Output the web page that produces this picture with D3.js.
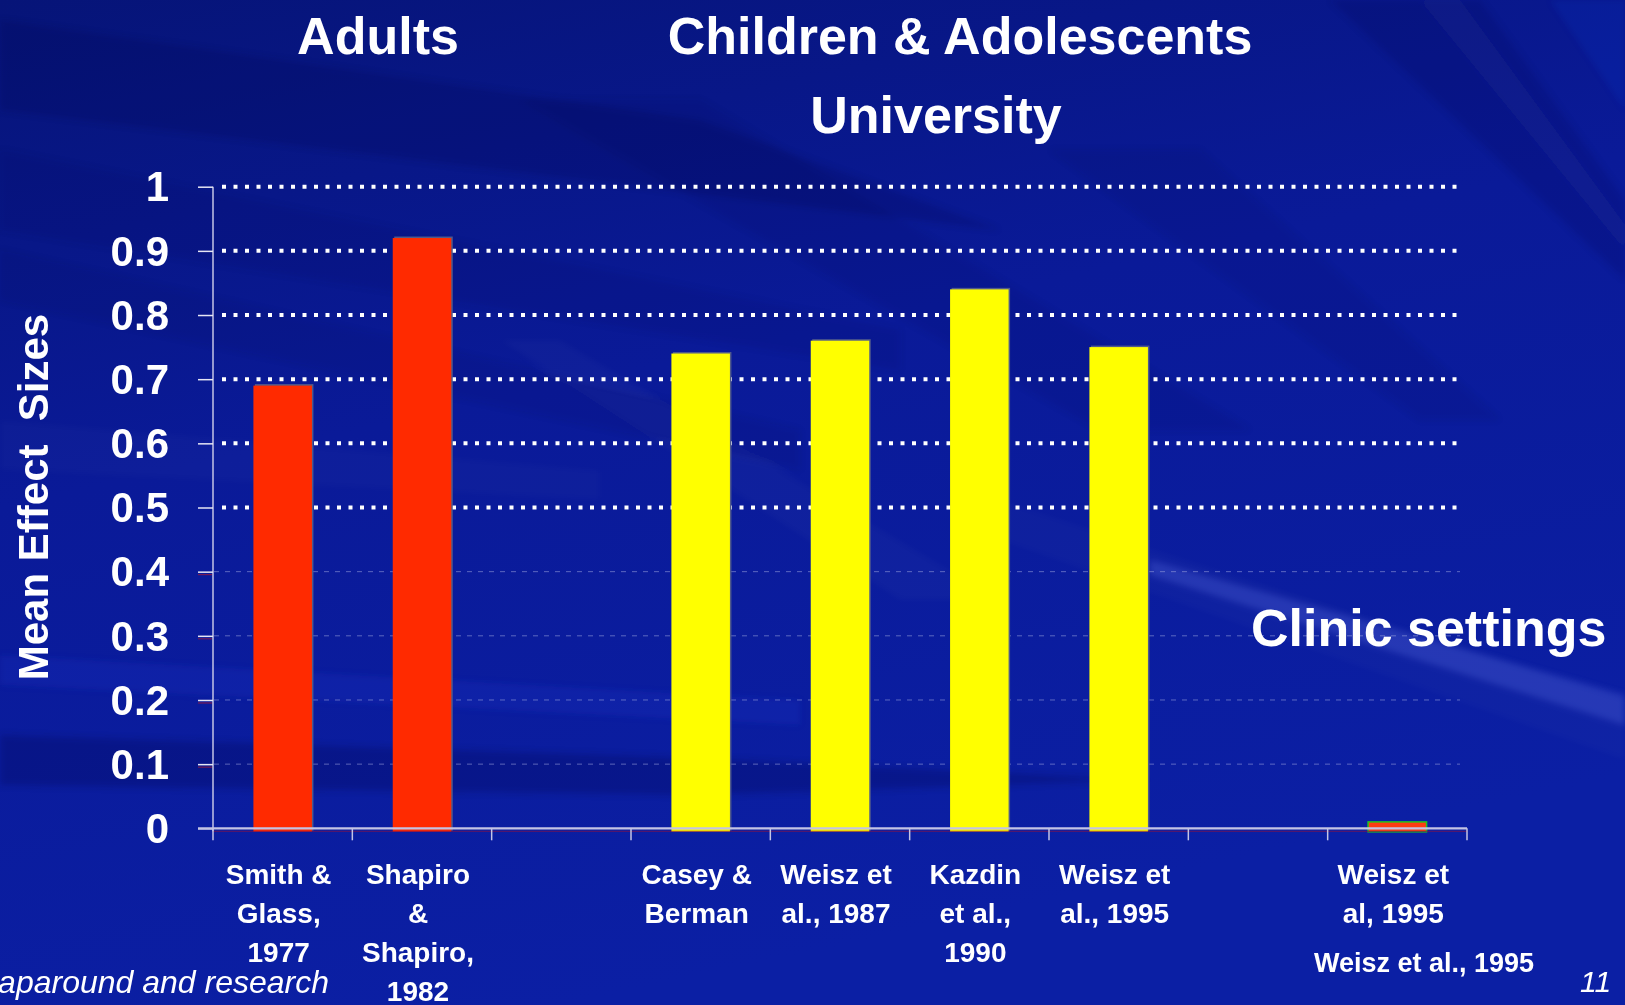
<!DOCTYPE html>
<html>
<head>
<meta charset="utf-8">
<script src="https://cdn.jsdelivr.net/npm/d3@7"></script>
<style>
  html, body { margin: 0; padding: 0; background: #0a1a96; overflow: hidden; }
  svg { display: block; }
  text { font-family: "Liberation Sans", Arial, Helvetica, sans-serif; }
</style>
</head>
<body>
<svg id="chart" width="1625" height="1005"></svg>
<script>
// ---- data ----
const studies = ["smith1977", "shapiro1982", "gapA", "casey", "weisz1987", "kazdin1990", "weisz1995", "gapB", "weiszClinic"];
const effectSizes = [0.69, 0.92, null, 0.74, 0.76, 0.84, 0.75, null, 0.01];
const groups = ["adult", "adult", null, "child", "child", "child", "child", null, "clinic"];
const tickLabels = [
  ["Smith &", "Glass,", "1977"],
  ["Shapiro", "&", "Shapiro,", "1982"],
  [],
  ["Casey &", "Berman"],
  ["Weisz et", "al., 1987"],
  ["Kazdin", "et al.,", "1990"],
  ["Weisz et", "al., 1995"],
  [],
  ["Weisz et", "al, 1995"]
];
const yTicks = [0, 0.1, 0.2, 0.3, 0.4, 0.5, 0.6, 0.7, 0.8, 0.9, 1];
const groupNames = ["adult", "child", "clinic"];
const groupColors = ["#ff2a00", "#ffff00", "#ff3c10"];

const W = 1625, H = 1005;
const svg = d3.select("#chart");
const defs = svg.append("defs");

// ---- slide background ----
const bg = defs.append("linearGradient").attr("id", "bgGrad")
  .attr("x1", "0").attr("y1", "0").attr("x2", "0.35").attr("y2", "1");
bg.append("stop").attr("offset", "0").attr("stop-color", "#061478");
bg.append("stop").attr("offset", "0.45").attr("stop-color", "#0a1a98");
bg.append("stop").attr("offset", "1").attr("stop-color", "#0b1fa4");
svg.append("rect").attr("width", W).attr("height", H).attr("fill", "url(#bgGrad)");

defs.append("filter").attr("id", "soft").attr("x", "-20%").attr("y", "-20%")
  .attr("width", "140%").attr("height", "140%")
  .append("feGaussianBlur").attr("stdDeviation", 3);

// sweeping light and shadow bands
const streaks = [
  { pts: [[0, 20], [700, 120], [1000, 230], [0, 110]], fill: "#000a40", op: 0.18 },
  { pts: [[0, 150], [900, 330], [900, 370], [0, 230]], fill: "#000a40", op: 0.10 },
  { pts: [[0, 250], [800, 430], [800, 470], [0, 300]], fill: "#000a40", op: 0.08 },
  { pts: [[0, 420], [600, 470], [600, 500], [0, 470]], fill: "#ffffff", op: 0.02 },
  { pts: [[0, 655], [800, 700], [800, 725], [0, 685]], fill: "#3050ff", op: 0.10 },
  { pts: [[0, 735], [700, 758], [1150, 780], [700, 795], [0, 785]], fill: "#000840", op: 0.22 },
  // diagonal sweep across the upper middle
  { pts: [[520, 100], [700, 100], [1250, 430], [1100, 430]], fill: "#000a40", op: 0.10 },
  { pts: [[500, 340], [560, 340], [1000, 600], [900, 600]], fill: "#ffffff", op: 0.025 },
  { pts: [[1050, 150], [1200, 150], [1500, 420], [1420, 420]], fill: "#000a40", op: 0.08 },
  { pts: [[1150, 560], [1625, 695], [1625, 725], [1150, 575]], fill: "#8090ff", op: 0.20 },
  { pts: [[1000, 500], [1625, 700], [1625, 760], [1000, 540]], fill: "#ffffff", op: 0.02 },
  { pts: [[1330, 0], [1480, 0], [1625, 200], [1625, 280]], fill: "#000a50", op: 0.16 },
  { pts: [[1420, 0], [1460, 0], [1625, 225], [1625, 250]], fill: "#ffffff", op: 0.03 },
  { pts: [[1550, 0], [1625, 0], [1625, 110]], fill: "#2040ff", op: 0.10 }
];
svg.append("g").attr("filter", "url(#soft)")
  .selectAll("polygon").data(streaks).join("polygon")
  .attr("points", d => d.pts.map(p => p.join(",")).join(" "))
  .attr("fill", d => d.fill).attr("opacity", d => d.op);

// ---- scales ----
const x = d3.scaleBand().domain(studies).range([213, 1467]).padding(0);
const y = d3.scaleLinear().domain([0, 1]).range([828.3, 186.7]);
const color = d3.scaleOrdinal().domain(groupNames).range(groupColors);
const barW = x.bandwidth() * 0.42;

// ---- gridlines ----
const grid = svg.append("g");
grid.selectAll("line.dot").data(yTicks.filter(t => t >= 0.5)).join("line")
  .attr("x1", 222).attr("x2", 1462)
  .attr("y1", d => y(d)).attr("y2", d => y(d))
  .attr("stroke", "#ffffff").attr("stroke-width", 4)
  .attr("stroke-dasharray", "4 7.5");
grid.selectAll("line.dash").data(yTicks.filter(t => t > 0 && t < 0.5)).join("line")
  .attr("x1", 214).attr("x2", 1460)
  .attr("y1", d => y(d)).attr("y2", d => y(d))
  .attr("stroke", "#a0a8e0").attr("stroke-opacity", 0.55).attr("stroke-width", 1)
  .attr("stroke-dasharray", "5 6");
// faint red floor marks under the value ticks
grid.selectAll("line.floor").data(yTicks.filter(t => t > 0 && t < 0.5)).join("line")
  .attr("x1", 198).attr("x2", 212)
  .attr("y1", d => y(d) + 3).attr("y2", d => y(d) + 3)
  .attr("stroke", "#8a1a4a").attr("stroke-width", 1);

// ---- bars ----
const rows = studies.map((s, i) => ({ s, v: effectSizes[i], g: groups[i] })).filter(d => d.v !== null);
const bars = svg.append("g");
// thin shade along the top and right edges
bars.selectAll("rect.shade").data(rows.filter(d => d.g !== "clinic")).join("rect")
  .attr("x", d => x(d.s) + (x.bandwidth() - barW) / 2 + 1.5)
  .attr("y", d => y(d.v) - 1.5)
  .attr("width", barW).attr("height", d => y(0) - y(d.v) + 4)
  .attr("fill", "#505a8c");
bars.selectAll("rect.bar").data(rows).join("rect")
  .attr("x", d => x(d.s) + (x.bandwidth() - barW) / 2)
  .attr("y", d => y(d.v))
  .attr("width", barW)
  .attr("height", d => y(0) - y(d.v) + 3.5)
  .attr("fill", d => color(d.g))
  .attr("stroke", d => d.g === "clinic" ? "#22c422" : "none")
  .attr("stroke-width", 1.5);

// ---- axes ----
const axisColor = "#c4c4e4";
const yAxis = svg.append("g").attr("transform", "translate(213,0)")
  .call(d3.axisLeft(y).tickValues(yTicks).tickSize(15).tickPadding(29).tickFormat(d3.format("~g")));
yAxis.select(".domain").attr("stroke", axisColor).attr("stroke-width", 1.5)
  .attr("d", `M0,${y(1)}V${y(0) + 3}`);
yAxis.selectAll(".tick line").attr("stroke", "#e6e6f4").attr("stroke-width", 1.5);
yAxis.selectAll(".tick text")
  .attr("fill", "#ffffff").attr("font-size", 42).attr("font-weight", "bold")
  .attr("dy", "0.34em");

// floor edge under the category axis
svg.append("line")
  .attr("x1", x.range()[0]).attr("x2", x.range()[1])
  .attr("y1", y(0) + 3).attr("y2", y(0) + 3)
  .attr("stroke", "#7a1450").attr("stroke-width", 1).attr("opacity", 0.8);
svg.append("line")
  .attr("x1", 198).attr("x2", x.range()[1])
  .attr("y1", y(0)).attr("y2", y(0))
  .attr("stroke", axisColor).attr("stroke-width", 2.2);
const bounds = studies.map(s => x(s)).concat([x.range()[1]]);
svg.append("g").selectAll("line").data(bounds).join("line")
  .attr("x1", d => d).attr("x2", d => d)
  .attr("y1", y(0)).attr("y2", y(0) + 12)
  .attr("stroke", axisColor).attr("stroke-width", 1.5);

// category labels
const labelG = svg.append("g").attr("fill", "#ffffff").attr("font-size", 28)
  .attr("font-weight", "bold").attr("text-anchor", "middle");
studies.forEach((s, i) => {
  const cx = x(s) + x.bandwidth() / 2 - 4;
  const t = labelG.append("text").attr("x", cx).attr("y", 884);
  tickLabels[i].forEach((line, j) => {
    t.append("tspan").attr("x", cx).attr("y", 884 + j * 39).text(line);
  });
});

// ---- axis title ----
svg.append("text")
  .attr("transform", "translate(48,497) rotate(-90)")
  .attr("text-anchor", "middle").attr("fill", "#ffffff")
  .attr("font-size", 42).attr("font-weight", "bold")
  .style("white-space", "pre")
  .text("Mean Effect  Sizes");

// ---- group headings ----
const heads = svg.append("g").attr("fill", "#ffffff").attr("font-weight", "bold").attr("font-size", 52);
heads.append("text").attr("x", 378).attr("y", 54).attr("text-anchor", "middle").text("Adults");
heads.append("text").attr("x", 960).attr("y", 54).attr("text-anchor", "middle").text("Children & Adolescents");
heads.append("text").attr("x", 936).attr("y", 133).attr("text-anchor", "middle").text("University");
heads.append("text").attr("x", 1251).attr("y", 646).attr("text-anchor", "start").text("Clinic settings");

// ---- footer ----
svg.append("text").attr("x", 1424).attr("y", 972).attr("text-anchor", "middle")
  .attr("fill", "#ffffff").attr("font-weight", "bold").attr("font-size", 27)
  .text("Weisz et al., 1995");
svg.append("text").attr("x", 329).attr("y", 993).attr("text-anchor", "end")
  .attr("fill", "#ffffff").attr("font-style", "italic").attr("font-size", 32)
  .text("Wraparound and research");
svg.append("text").attr("x", 1580).attr("y", 992).attr("text-anchor", "start")
  .attr("fill", "#ffffff").attr("font-style", "italic").attr("font-size", 30)
  .text("11");
</script>
</body>
</html>
